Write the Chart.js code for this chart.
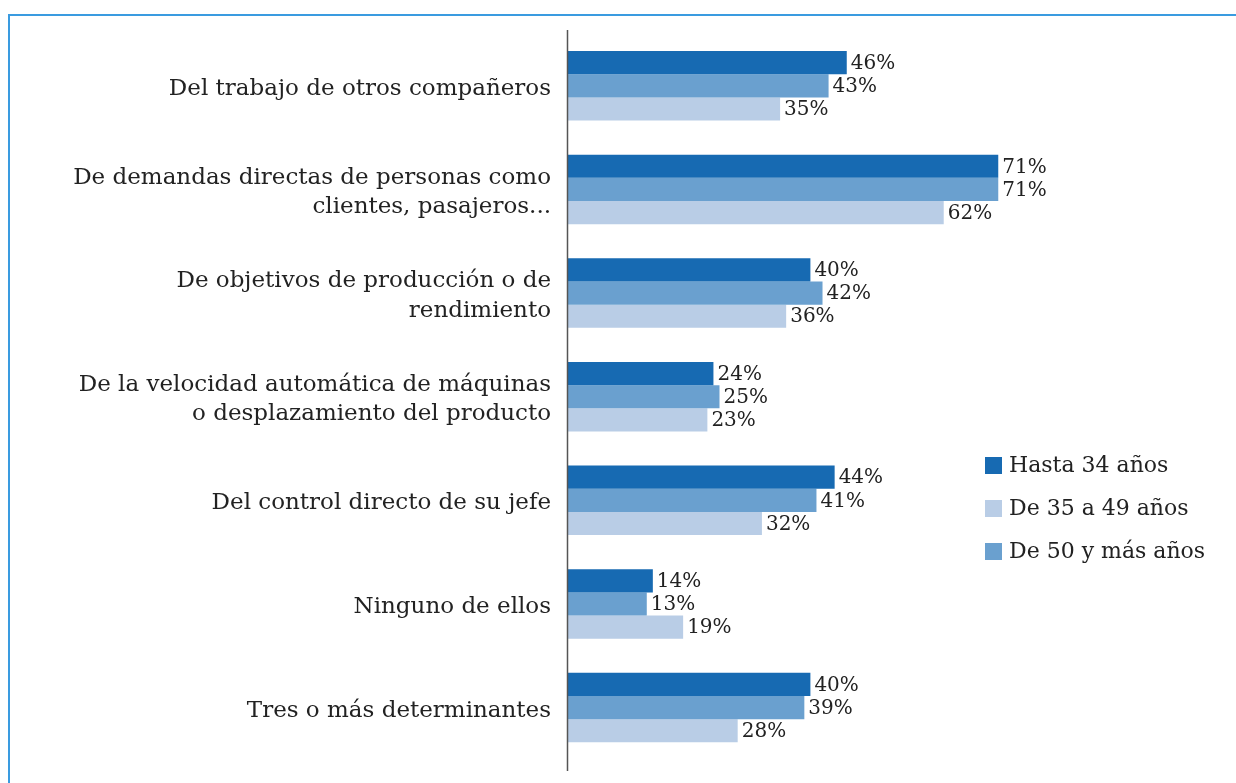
<!DOCTYPE html>
<html>
<head>
<meta charset="utf-8">
<script src="https://cdn.jsdelivr.net/npm/chart.js@4/dist/chart.umd.min.js"></script>
<style>
html,body{margin:0;padding:0;background:#fff;}
#wrap{position:absolute;left:0;top:0;width:1236px;height:783px;}
#frame{position:absolute;left:8px;top:14px;right:0;bottom:0;border-top:2px solid #3a9be0;border-left:2px solid #3a9be0;}
canvas{position:absolute;left:0;top:0;}
</style>
</head>
<body>
<div id="wrap"><div id="frame"></div><canvas id="c" width="1236" height="783"></canvas></div>
<script>
const categories = [
  "Del trabajo de otros compañeros",
  ["De demandas directas de personas como", "clientes, pasajeros..."],
  ["De objetivos de producción o de", "rendimiento"],
  ["De la velocidad automática de máquinas", "o desplazamiento del producto"],
  "Del control directo de su jefe",
  "Ninguno de ellos",
  "Tres o más determinantes"
];
const seriesNames = ["Hasta 34 años", "De 50 y más años", "De 35 a 49 años"];
const hasta34 = [46, 71, 40, 24, 44, 14, 40];
const de50 = [43, 71, 42, 25, 41, 13, 39];
const de35a49 = [35, 62, 36, 23, 32, 19, 28];
const colors = ["#176ab2", "#6aa0cf", "#b9cde6"];
const legendOrder = [0, 2, 1];

const FONT = "'DejaVu Serif', 'Liberation Serif', serif";

const extras = {
  id: 'extras',
  afterDraw(chart) {
    const ctx = chart.ctx;
    const area = chart.chartArea;
    ctx.save();
    ctx.strokeStyle = '#555';
    ctx.lineWidth = 1.5;
    ctx.beginPath();
    ctx.moveTo(area.left - 0.5, 30);
    ctx.lineTo(area.left - 0.5, 771);
    ctx.stroke();
    ctx.fillStyle = '#222';
    ctx.font = "20px " + FONT;
    ctx.textBaseline = 'middle';
    ctx.textAlign = 'left';
    chart.data.datasets.forEach((ds, i) => {
      const meta = chart.getDatasetMeta(i);
      meta.data.forEach((bar, j) => {
        ctx.fillText(ds.data[j] + '%', bar.x + 4, bar.y + 1);
      });
    });
    let y = 465;
    legendOrder.forEach(i => {
      ctx.fillStyle = colors[i];
      ctx.fillRect(985, y - 8, 17, 17);
      ctx.fillStyle = '#222';
      ctx.font = "22px " + FONT;
      ctx.fillText(chart.data.datasets[i].label, 1009, y + 1);
      y += 43;
    });
    ctx.restore();
  }
};

new Chart(document.getElementById('c'), {
  type: 'bar',
  data: {
    labels: categories,
    datasets: [
      { label: seriesNames[0], data: hasta34, backgroundColor: colors[0] },
      { label: seriesNames[1], data: de50, backgroundColor: colors[1] },
      { label: seriesNames[2], data: de35a49, backgroundColor: colors[2] }
    ]
  },
  options: {
    indexAxis: 'y',
    responsive: false,
    animation: false,
    devicePixelRatio: 1,
    layout: { padding: { top: 34, bottom: 23, right: 62, left: 0 } },
    datasets: { bar: { barPercentage: 1.0, categoryPercentage: 0.67 } },
    scales: {
      x: { display: false, min: 0, max: 100 },
      y: {
        grid: { display: false },
        border: { display: false },
        ticks: {
          color: '#222',
          font: { family: FONT, size: 23, lineHeight: 1.27 },
          padding: 9,
          labelOffset: 3
        },
        afterFit(scale) { scale.width = 568; }
      }
    },
    plugins: {
      legend: { display: false },
      tooltip: { enabled: false }
    }
  },
  plugins: [extras]
});
</script>
</body>
</html>
